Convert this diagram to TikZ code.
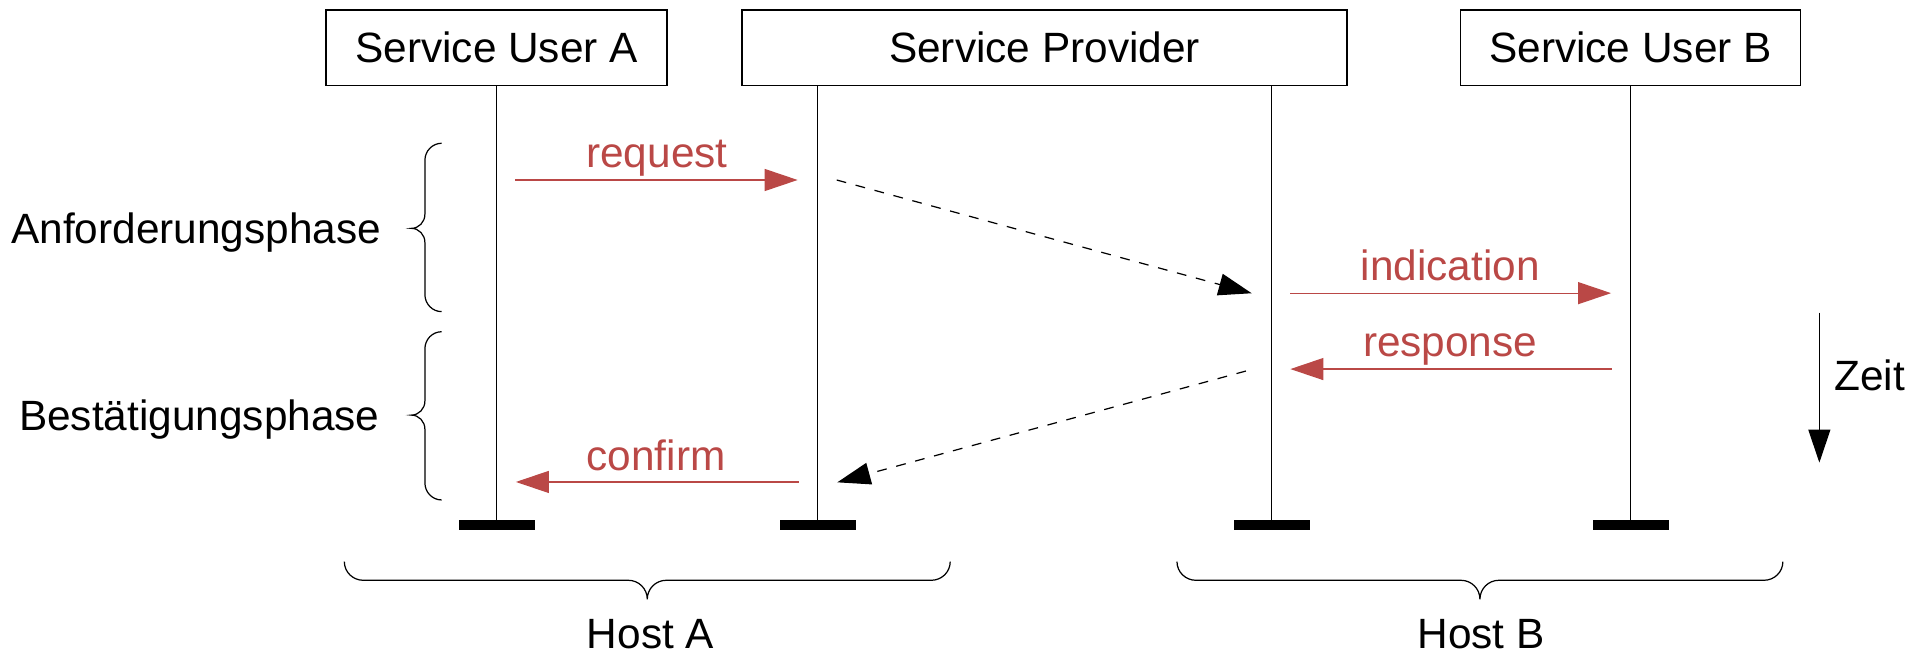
\documentclass[tikz,border=0pt]{standalone}
\usepackage{fontspec}
\setmainfont{Liberation Sans}
\usetikzlibrary{arrows.meta}
\definecolor{msgred}{RGB}{186,72,70}
\begin{document}
\begin{tikzpicture}[x=0.5pt,y=-0.5pt,
  every node/.style={font=\fontsize{17.3}{20}\selectfont},
  actor/.style={draw,line width=0.6pt,inner sep=0pt,minimum height=30.75pt},
  endbar/.style={fill=black,inner sep=0pt,minimum width=31pt,minimum height=4pt},
  life/.style={line width=0.6pt},
  tipstyle/.style={-{Triangle[length=13.5pt,width=9pt]}},
  msg/.style={tipstyle,draw=msgred,fill=msgred,line width=0.5pt},
  relay/.style={tipstyle,dash pattern=on 4pt off 4pt,line width=0.5pt},
  plain/.style={inner sep=0pt},
  msglabel/.style={plain,text=msgred,anchor=base},
  curly/.style={line width=0.5pt}]
\useasboundingbox (0,0) rectangle (1568,534);

% participants
\node[actor,minimum width=139.2pt] (A) at (405.6,39) {Service User A};
\node[actor,minimum width=247pt]   (P) at (853,39)   {Service Provider};
\node[actor,minimum width=139pt]   (B) at (1331.6,39) {Service User B};

% end-of-life bars
\node[endbar] (barA)  at (405.6,428.7) {};
\node[endbar] (barP1) at (667.7,428.7) {};
\node[endbar] (barP2) at (1038.5,428.7) {};
\node[endbar] (barB)  at (1331.6,428.7) {};

% lifelines
\draw[life] (A.south) -- (barA.north);
\draw[life] (P.south -| barP1) -- (barP1.north);
\draw[life] (P.south -| barP2) -- (barP2.north);
\draw[life] (B.south) -- (barB.north);

% message end points
\coordinate (rqS) at (420.6,147);
\coordinate (rqE) at (651.4,147);
\coordinate (d1S) at (683.3,147);
\coordinate (d1E) at (1022.2,239.5);
\coordinate (inS) at (1053.8,239.4);
\coordinate (inE) at (1315.7,239.4);
\coordinate (rsS) at (1316.3,301.4);
\coordinate (rsE) at (1053.8,301.4);
\coordinate (d2S) at (1017.5,303);
\coordinate (d2E) at (683.8,393.9);
\coordinate (cfS) at (652.5,393.6);
\coordinate (cfE) at (421.3,393.6);

% service primitives
\draw[msg] (rqS) -- (rqE);
\draw[relay] (d1S) -- (d1E);
\draw[msg] (inS) -- (inE);
\draw[msg] (rsS) -- (rsE);
\draw[relay] (d2S) -- (d2E);
\draw[msg] (cfS) -- (cfE);

\node[msglabel] (tReq) at (536.5,137)   {request};
\node[msglabel] (tInd) at (1184.3,229.2) {indication};
\node[msglabel] (tRes) at (1184.3,291.3) {response};
\node[msglabel] (tCon) at (535.8,384.4) {confirm};

% time axis
\coordinate (zS) at (1485.8,255.3);
\coordinate (zE) at (1485.8,377.8);
\draw[tipstyle,line width=0.5pt] (zS) -- (zE);
\node[plain,anchor=base west] (zeit) at (1497.7,319) {Zeit};

% phase braces
\draw[curly] (360.7,117) .. controls (353.1,117) and (347,123.3) .. (347,131)
  -- (347,175) .. controls (347,181.3) and (342.1,186.5) .. (336,186.5)
  .. controls (342.1,186.5) and (347,191.7) .. (347,198)
  -- (347,240.5) .. controls (347,248.2) and (353.1,254.5) .. (360.7,254.5);
\draw[curly] (360.7,270.9) .. controls (353.1,270.9) and (347,277.2) .. (347,284.9)
  -- (347,327.5) .. controls (347,333.8) and (342.1,339) .. (336,339)
  .. controls (342.1,339) and (347,344.2) .. (347,350.5)
  -- (347,394.3) .. controls (347,402) and (353.1,408.3) .. (360.7,408.3);

\node[plain,anchor=base east] (ph1) at (311.7,199)   {Anforderungsphase};
\node[plain,anchor=base east] (ph2) at (310.3,351.5) {Bestätigungsphase};

% host braces
\draw[curly] (281.2,458.7) .. controls (281.2,467.1) and (288.1,473.9) .. (296.7,473.9)
  -- (513.1,473.9) .. controls (521.7,473.9) and (528.6,480.8) .. (528.6,489.4)
  .. controls (528.6,480.8) and (535.5,473.9) .. (544.1,473.9)
  -- (760.5,473.9) .. controls (769.1,473.9) and (776,467.1) .. (776,458.7);
\draw[curly] (961.2,458.7) .. controls (961.2,467.1) and (968.1,473.9) .. (976.7,473.9)
  -- (1193.1,473.9) .. controls (1201.7,473.9) and (1208.6,480.8) .. (1208.6,489.4)
  .. controls (1208.6,480.8) and (1215.5,473.9) .. (1224.1,473.9)
  -- (1440.5,473.9) .. controls (1449.1,473.9) and (1456,467.1) .. (1456,458.7);

\node[msglabel,text=black] (hostA) at (531.2,529.8) {Host A};
\node[msglabel,text=black] (hostB) at (1209.5,529.8) {Host B};
\end{tikzpicture}
\end{document}
